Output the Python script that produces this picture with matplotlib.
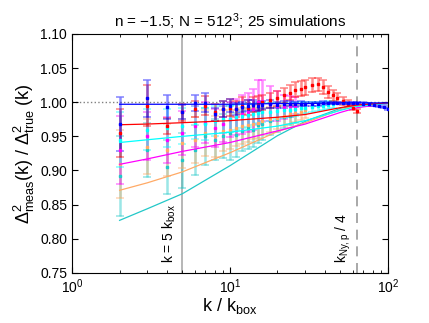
import matplotlib
matplotlib.use('Agg')
import matplotlib.pyplot as plt
import numpy as np

plt.rcParams['font.family'] = ['Liberation Sans', 'DejaVu Sans']
plt.rcParams['mathtext.fontset'] = 'custom'
plt.rcParams['mathtext.rm'] = 'Liberation Sans'
plt.rcParams['mathtext.it'] = 'Liberation Sans'

# model curves (k, ratio)
k_model = [2, 3, 5, 10, 20, 30, 50, 64, 100]
model_teal = [0.827, 0.844, 0.866, 0.907, 0.951, 0.972, 0.991, 0.996, 0.998]
model_orange = [0.871, 0.882, 0.898, 0.926, 0.957, 0.970, 0.989, 0.995, 0.998]
model_magenta = [0.909, 0.917, 0.928, 0.941, 0.958, 0.968, 0.985, 0.992, 0.998]
model_cyan = [0.941, 0.945, 0.950, 0.956, 0.965, 0.973, 0.988, 0.994, 0.998]
model_red = [0.967, 0.968, 0.970, 0.973, 0.978, 0.982, 0.992, 0.996, 0.999]
model_blue = [0.997, 0.997, 0.997, 0.997, 0.998, 0.998, 0.999, 0.999, 0.999]

# measured points
k_meas = [2, 3, 4, 5, 6, 7, 8, 9, 10, 11, 12, 13, 14, 15, 16, 18, 20, 22, 24, 26,
          28, 30, 33, 36, 39, 42, 45, 48, 52, 56, 60, 64, 70, 76, 82, 88, 94, 100]

teal_mean = [0.892, 0.930, 0.905, 0.915, 0.930, 0.950, 0.945, 0.950, 0.955, 0.952,
             0.958, 0.962, 0.960, 0.966, 0.968, 0.972, 0.975, 0.978, 0.980, 0.983]
teal_err = [0.058, 0.040, 0.040, 0.040, 0.036, 0.042, 0.030, 0.032, 0.040, 0.032,
            0.030, 0.030, 0.026, 0.026, 0.024, 0.020, 0.018, 0.016, 0.014, 0.013]

orange_mean = [0.910, 0.935, 0.930, 0.940, 0.945, 0.955, 0.950, 0.958, 0.960, 0.962,
               0.965, 0.966, 0.968, 0.970, 0.972, 0.975, 0.977, 0.980, 0.982, 0.984,
               0.986, 0.988]
orange_err = [0.050, 0.040, 0.038, 0.036, 0.034, 0.034, 0.030, 0.030, 0.028, 0.026,
              0.026, 0.024, 0.022, 0.022, 0.020, 0.018, 0.016, 0.015, 0.014, 0.013,
              0.012, 0.011]

magenta_mean = [0.930, 0.950, 0.945, 0.955, 0.965, 0.970, 0.962, 0.968, 0.975, 0.978,
                0.982, 0.985, 0.990, 1.000, 1.002, 0.998, 0.995, 0.993, 0.994, 0.995]
magenta_err = [0.050, 0.035, 0.034, 0.032, 0.030, 0.030, 0.028, 0.026, 0.026, 0.026,
               0.028, 0.028, 0.030, 0.032, 0.030, 0.025, 0.022, 0.018, 0.015, 0.012]

cyan_mean = [0.945, 0.960, 0.962, 0.965, 0.970, 0.968, 0.972, 0.975, 0.976, 0.978,
             0.980, 0.981, 0.982, 0.984, 0.985, 0.986, 0.987, 0.988, 0.989, 0.990,
             0.991, 0.992, 0.993, 0.994, 0.995, 0.996, 0.997]
cyan_err = [0.040, 0.030, 0.028, 0.026, 0.024, 0.024, 0.022, 0.020, 0.020, 0.018,
            0.018, 0.017, 0.016, 0.015, 0.014, 0.013, 0.012, 0.011, 0.010, 0.010,
            0.009, 0.008, 0.008, 0.007, 0.006, 0.006, 0.005]

red_mean = [0.955, 0.995, 0.965, 0.985, 0.990, 0.995, 0.985, 0.990, 0.992, 0.990,
            0.995, 0.992, 0.996, 0.998, 1.000, 1.003, 1.006, 1.010, 1.014, 1.018,
            1.020, 1.022, 1.025, 1.026, 1.022, 1.015, 1.010, 1.006, 1.002, 0.998,
            0.992, 0.987]
red_err = [0.035, 0.030, 0.012, 0.012, 0.012, 0.014, 0.012, 0.012, 0.012, 0.012,
           0.012, 0.011, 0.011, 0.011, 0.011, 0.011, 0.011, 0.011, 0.011, 0.011,
           0.011, 0.011, 0.010, 0.010, 0.010, 0.009, 0.008, 0.007, 0.006, 0.005,
           0.004, 0.003]

blue_mean = [0.968, 1.006, 0.993, 0.986, 0.999, 0.999, 0.982, 0.990, 0.995, 0.990,
             0.993, 0.995, 0.996, 0.994, 0.996, 0.997, 0.996, 0.997, 0.998, 0.997,
             0.998, 0.998, 0.998, 0.998, 0.999, 0.999, 0.999, 0.999, 0.999, 0.999,
             0.999, 0.999, 0.998, 0.997, 0.996, 0.995, 0.993, 0.990]
blue_err = [0.039, 0.027, 0.017, 0.010, 0.012, 0.014, 0.009, 0.012, 0.010, 0.009,
            0.008, 0.008, 0.007, 0.007, 0.006, 0.006, 0.005, 0.005, 0.004, 0.004,
            0.004, 0.003, 0.003, 0.003, 0.003, 0.002, 0.002, 0.002, 0.002, 0.002,
            0.002, 0.002, 0.002, 0.002, 0.002, 0.002, 0.002, 0.002]

series = [
    (model_teal, teal_mean, teal_err, '#22c8c8'),
    (model_orange, orange_mean, orange_err, '#ffaa66'),
    (model_magenta, magenta_mean, magenta_err, '#ff00ff'),
    (model_cyan, cyan_mean, cyan_err, '#00ffff'),
    (model_red, red_mean, red_err, '#ff0000'),
    (model_blue, blue_mean, blue_err, '#0000ff'),
]


fig = plt.figure(figsize=(4.29, 3.23), dpi=100)
ax = fig.add_axes([0.168, 0.155, 0.736, 0.740])

ax.axhline(1.0, color='gray', ls=':', lw=1, zorder=1)
ax.axvline(5, color='#aaaaaa', lw=1.2, zorder=1)
ax.axvline(64, color='#999999', lw=1.2, ls=(0, (6, 4)), zorder=1)

for model, mean, err, col in series:
    n = len(mean)
    ax.errorbar(k_meas[:n], mean, yerr=err, fmt='none', ecolor=col, alpha=0.45,
                elinewidth=1.8, capsize=3, capthick=1.2, zorder=2)
    ax.plot(k_meas[:n], mean, ls='none', marker='s', ms=1.8, color=col, zorder=3)
    ax.plot(k_model, model, color=col, lw=0.9, zorder=3)

ax.set_xscale('log')
ax.set_xlim(1, 100)
ax.set_ylim(0.75, 1.10)
ax.set_yticks(np.arange(0.75, 1.101, 0.05))
ax.set_yticklabels(['%.2f' % v for v in np.arange(0.75, 1.101, 0.05)])
ax.tick_params(which='both', direction='in', top=True, right=True, labelsize=10)
ax.tick_params(which='major', length=4)
ax.tick_params(which='minor', length=2)

ax.text(4.15, 0.764, 'k = 5 k$_{\\rm box}$', rotation=90, fontsize=10,
        ha='center', va='bottom')
ax.text(52, 0.764, 'k$_{\\rm Ny,p}$ / 4', rotation=90, fontsize=10,
        ha='center', va='bottom')

ax.set_title('n = \u22121.5; N = 512$^3$; 25 simulations', fontsize=11, pad=5)
ax.set_xlabel('k / k$_{\\rm box}$', fontsize=13, labelpad=0)
ax.set_ylabel('$\\Delta^2_{\\rm meas}$(k) / $\\Delta^2_{\\rm true}$ (k)', fontsize=13,
              labelpad=2)

fig.savefig('out.png', dpi=100)
